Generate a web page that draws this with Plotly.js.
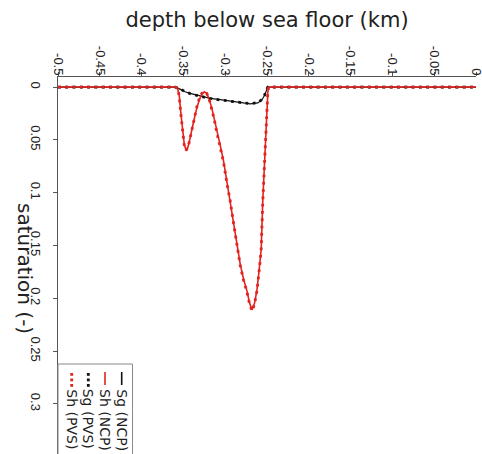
<!DOCTYPE html>
<html>
<head>
<meta charset="utf-8">
<script src="https://cdn.plot.ly/plotly-3.0.1.min.js"></script>
<style>html,body{margin:0;padding:0;background:#fff;}#chart{width:482px;height:454px;}</style>
</head>
<body>
<div id="chart"></div>
<script>
// depth below sea floor (km) and saturations
var depthNCP = [-0.5, -0.36, -0.357, -0.355, -0.353, -0.351, -0.349, -0.347, -0.345, -0.343, -0.340, -0.337, -0.334, -0.331, -0.328, -0.325, -0.322, -0.319, -0.316, -0.313, -0.310, -0.306, -0.302, -0.298, -0.294, -0.290, -0.286, -0.282, -0.278, -0.274, -0.271, -0.268, -0.265, -0.262, -0.259, -0.257, -0.255, -0.2535, -0.2515, -0.250, -0.249, -0.248, 0];
var shNCP = [0, 0, 0.001, 0.008, 0.025, 0.042, 0.054, 0.0595, 0.058, 0.052, 0.040, 0.030, 0.020, 0.012, 0.007, 0.0045, 0.006, 0.012, 0.020, 0.030, 0.042, 0.055, 0.070, 0.090, 0.107, 0.128, 0.150, 0.168, 0.182, 0.193, 0.204, 0.211, 0.205, 0.192, 0.170, 0.154, 0.107, 0.080, 0.055, 0.025, 0.005, 0, 0];
var sgDepth = [-0.5, -0.36, -0.354, -0.348, -0.342, -0.334, -0.326, -0.318, -0.306, -0.294, -0.282, -0.270, -0.261, -0.256, -0.253, -0.251, -0.249, 0];
var sgNCP = [0, 0, 0.002, 0.0045, 0.006, 0.0078, 0.0093, 0.0107, 0.012, 0.0133, 0.0147, 0.016, 0.015, 0.012, 0.008, 0.003, 0, 0];
var sgPVS = [0, 0, 0.002, 0.0045, 0.0062, 0.008, 0.0095, 0.0108, 0.0122, 0.0135, 0.0148, 0.0158, 0.0148, 0.0118, 0.0078, 0.003, 0, 0];
var shPVS = [0, 0, 0.001, 0.009, 0.026, 0.043, 0.055, 0.060, 0.058, 0.052, 0.040, 0.029, 0.019, 0.011, 0.006, 0.004, 0.006, 0.012, 0.021, 0.031, 0.043, 0.056, 0.071, 0.091, 0.108, 0.129, 0.151, 0.169, 0.183, 0.194, 0.205, 0.212, 0.206, 0.193, 0.171, 0.155, 0.108, 0.080, 0.054, 0.024, 0.004, 0, 0];
var seriesNames = ['Sg (NCP)', 'Sh (NCP)', 'Sg (PVS)', 'Sh (PVS)'];
var xTickVals = [-0.5, -0.45, -0.4, -0.35, -0.3, -0.25, -0.2, -0.15, -0.1, -0.05, 0];
var xTickText = ['-0.5', '-0.45', '-0.4', '-0.35', '-0.3', '-0.25', '-0.2', '-0.15', '-0.1', '-0.05', '0'];
var yTickVals = [0, 0.05, 0.1, 0.15, 0.2, 0.25, 0.3];
var yTickText = ['0', '0.05', '0.1', '0.15', '0.2', '0.25', '0.3'];

var RED = '#e2231f', BLACK = '#111111';
var font = 'Liberation Sans, Arial, sans-serif';
var wide = 'DejaVu Sans, sans-serif';

var traces = [
  {x: sgDepth, y: sgNCP, name: seriesNames[0], mode: 'lines', line: {color: BLACK, width: 1.2}},
  {x: depthNCP, y: shNCP, name: seriesNames[1], mode: 'lines', line: {color: RED, width: 1.6}},
  {x: sgDepth, y: sgPVS, name: seriesNames[2], mode: 'lines', line: {color: BLACK, width: 2.8, dash: '2.8px,4.5px'}},
  {x: depthNCP, y: shPVS, name: seriesNames[3], mode: 'lines', line: {color: RED, width: 2.8, dash: '2.8px,4.5px'}}
];

// plot area in pixels
var L = 58, R = 476, T = 77, B = 454, W = 482, H = 454;
function px(x) { return (x - L) / (R - L); }
function py(y) { return (B - y) / (B - T); }

var shapes = [
  {type: 'rect', xref: 'paper', yref: 'paper', x0: 0, x1: px(132.5), y0: py(470), y1: py(364),
   line: {color: '#8a8a8a', width: 1}, fillcolor: 'rgba(255,255,255,1)', layer: 'above'}
];
var annotations = [
  {xref: 'paper', yref: 'paper', x: px(25), y: py(268), text: 'saturation (-)', textangle: 90,
   showarrow: false, xanchor: 'center', yanchor: 'middle', font: {family: wide, size: 20, color: '#222'}}
];
var legCols = [121.7, 105, 88.3, 71.7];
var legColors = [BLACK, RED, BLACK, RED];
var legDash = ['solid', 'solid', 'dot', 'dot'];
for (var i = 0; i < 4; i++) {
  var cx = legCols[i];
  if (legDash[i] === 'solid') {
    shapes.push({type: 'line', xref: 'paper', yref: 'paper', x0: px(cx), x1: px(cx), y0: py(372), y1: py(385),
      line: {color: legColors[i], width: 1.6}, layer: 'above'});
  } else {
    for (var k = 0; k < 3; k++) {
      var yy = 373 + k * 5.5;
      shapes.push({type: 'rect', xref: 'paper', yref: 'paper', x0: px(cx - 1.4), x1: px(cx + 1.4), y0: py(yy + 2.8), y1: py(yy),
        line: {width: 0}, fillcolor: legColors[i], layer: 'above'});
    }
  }
  annotations.push({xref: 'paper', yref: 'paper', x: px(cx), y: py(387), text: seriesNames[i], textangle: 90,
    showarrow: false, xanchor: 'center', yanchor: 'top', font: {family: wide, size: 14, color: '#222'}});
}

var layout = {
  width: W, height: H,
  margin: {l: L, r: W - R, t: T, b: H - B, pad: 0},
  paper_bgcolor: '#fff', plot_bgcolor: '#fff',
  showlegend: false,
  title: {text: 'depth below sea floor (km)', x: px(267), xref: 'paper', xanchor: 'center',
    y: 1 - 20 / H, yref: 'container', yanchor: 'middle', font: {family: wide, size: 21, color: '#222'}},
  xaxis: {range: [-0.5, 0], side: 'top', tickvals: xTickVals, ticktext: xTickText, tickangle: 90,
    showgrid: false, zeroline: false, showline: true, linecolor: '#555', linewidth: 1,
    ticks: 'outside', ticklen: 4, tickcolor: '#555', ticklabelstandoff: -8, ticklabeloverflow: 'allow',
    tickfont: {family: font, size: 13, color: '#222'}},
  yaxis: {range: [0.3475, -0.0095], tickvals: yTickVals, ticktext: yTickText, tickangle: 90,
    showgrid: false, zeroline: false, showline: true, linecolor: '#555', linewidth: 1,
    ticks: 'outside', ticklen: 4, tickcolor: '#555', ticklabelstandoff: 6, ticklabeloverflow: 'allow',
    tickfont: {family: font, size: 13, color: '#222'}},
  shapes: shapes,
  annotations: annotations
};
Plotly.newPlot('chart', traces, layout, {displayModeBar: false, staticPlot: true});
</script>
</body>
</html>
